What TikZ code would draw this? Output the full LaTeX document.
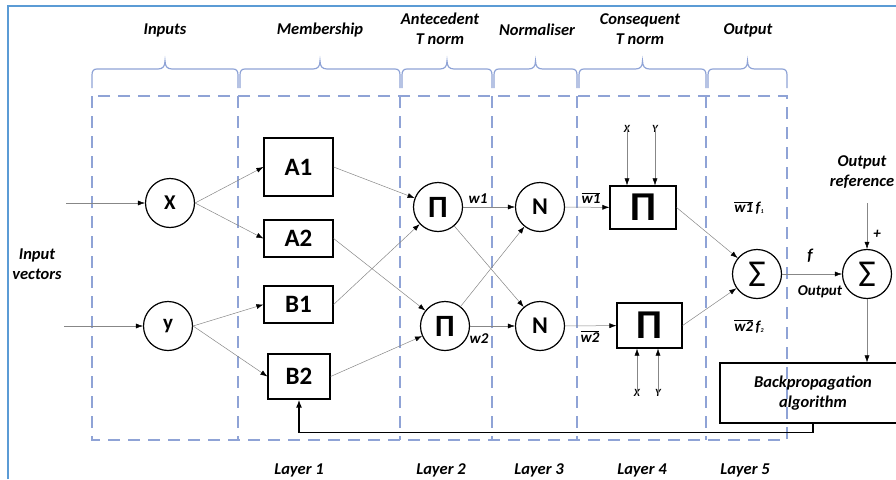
\documentclass[tikz,border=0pt]{standalone}
\usepackage{fontspec}
\setmainfont{Carlito}
\usetikzlibrary{arrows.meta}
\definecolor{frameblue}{RGB}{91,155,213}
\definecolor{dashblue}{RGB}{143,163,214}
\definecolor{conn}{RGB}{135,135,135}
\begin{document}
\begin{tikzpicture}[x=1pt,y=-1pt,
  lbl/.style={font=\fontsize{16.5}{20}\selectfont\bfseries\itshape, inner sep=0pt, align=center},
  small/.style={font=\fontsize{15}{17}\selectfont\bfseries\itshape, inner sep=0pt},
  tiny/.style={font=\fontsize{11}{13}\selectfont\bfseries\itshape, inner sep=0pt},
  cnode/.style={circle, draw=black, line width=1.2pt, minimum size=49pt, inner sep=0pt, font=\fontsize{24}{26}\selectfont\bfseries},
  bnode/.style={rectangle, draw=black, line width=1.2pt, inner sep=0pt, font=\fontsize{25}{27}\selectfont\bfseries},
  column/.style={draw=dashblue, line width=1.2pt, dash pattern=on 12pt off 8pt},
  bracestyle/.style={draw=dashblue, line width=1.2pt},
  conn/.style={draw=conn, line width=0.5pt, -{Latex[length=7pt,width=5pt,color=black]}},
  feedback/.style={draw=black, line width=1.5pt, -{Latex[length=8pt,width=6pt]}}
]
\useasboundingbox (0,0) rectangle (896,479);
% frame
\draw[frameblue, line width=1.8pt] (8,479) -- (8,6) -- (900,6);
% columns
\draw[column] (92,96) rectangle (787,440);
\foreach \a in {238, 400, 492, 577, 706}
  \draw[column] (\a,96) -- (\a,440);
% braces
\foreach \a/\b in {92/238, 240/400, 402/492, 494/577, 579/706, 708/787} {
  \pgfmathsetmacro\m{(\a+\b)/2}
  \draw[bracestyle] (\a,88) -- (\a,75)
     .. controls (\a,71) and ({\a+1.5},69) .. ({\a+5},69)
     -- ({\m-7},69)
     .. controls ({\m-2},69) and (\m,66) .. (\m,61)
     .. controls (\m,66) and ({\m+2},69) .. ({\m+7},69)
     -- ({\b-5},69)
     .. controls ({\b-1.5},69) and (\b,71) .. (\b,75)
     -- (\b,88);
}
% headers
\node[lbl] (hin) at (165,30) {Inputs};
\node[lbl] (hmem) at (320,30) {Membership};
\node[lbl] (hant) at (440,29) {Antecedent\\T norm};
\node[lbl] (hnorm) at (537,30) {Normaliser};
\node[lbl] (hcons) at (640,29) {Consequent\\T norm};
\node[lbl] (hout) at (748,30) {Output};
% layer labels
\node[lbl] (l1) at (299,470) {Layer 1};
\node[lbl] (l2) at (441,470) {Layer 2};
\node[lbl] (l3) at (539,470) {Layer 3};
\node[lbl] (l4) at (642,470) {Layer 4};
\node[lbl] (l5) at (745,470) {Layer 5};
% input vectors
\node[lbl] (iv) at (37,264) {Input\\vectors};
\coordinate (inx) at (66,203);
\coordinate (iny) at (64,326);
% nodes
\node[cnode, font=\fontsize{21}{23}\selectfont\bfseries] (X) at (170,203) {X};
\node[cnode, font=\fontsize{21}{23}\selectfont\bfseries] (Y) at (168,326) {y};
\node[bnode, minimum width=69pt, minimum height=58pt] (A1) at (298.5,167) {A1};
\node[bnode, minimum width=69pt, minimum height=37pt] (A2) at (298.5,238.5) {A2};
\node[bnode, minimum width=69pt, minimum height=37pt] (B1) at (298.5,304.5) {B1};
\node[bnode, minimum width=62pt, minimum height=45pt] (B2) at (299,376.5) {B2};
\node[cnode, font=\fontsize{31}{33}\selectfont\bfseries] (P1) at (438,207) {Π};
\node[cnode, font=\fontsize{31}{33}\selectfont\bfseries] (P2) at (445,326) {Π};
\node[cnode] (N1) at (540,207) {N};
\node[cnode] (N2) at (540,326) {N};
\node[bnode, minimum width=66pt, minimum height=43pt, font=\fontsize{41}{43}\selectfont\bfseries] (PB1) at (643,207.5) {Π};
\node[bnode, minimum width=65pt, minimum height=45pt, font=\fontsize{41}{43}\selectfont\bfseries] (PB2) at (649.5,325.5) {Π};
\node[cnode, font=\fontsize{38}{40}\selectfont] (S1) at (757,274) {Σ};
\node[cnode, font=\fontsize{38}{40}\selectfont] (S2) at (867,274) {Σ};
\node[rectangle, draw=black, line width=1.2pt, minimum width=186pt, minimum height=60pt, lbl] (BP) at (813,393) {Backpropagation\\algorithm};
% labels
\node[small] (w1) at (478,199) {w1};
\node[small] (w2) at (479,339) {w2};
\node[small] (w1b) at (591,198) {$\overline{\hbox{w1}}$};
\node[small] (w2b) at (590,337) {$\overline{\hbox{w2}}$};
\node[small] (w1f) at (749,208) {$\overline{\hbox{w1}}$\,f{\fontsize{6}{7}\selectfont\raisebox{-1pt}{1}}};
\node[small] (w2f) at (749,326) {$\overline{\hbox{w2}}$\,f{\fontsize{6}{7}\selectfont\raisebox{-1pt}{2}}};
\node[lbl] (fl) at (810,256) {f};
\node[small] (outl) at (820,292) {Output};
\node[lbl] (oref) at (862,172) {Output\\reference};
\coordinate (orefa) at (867,203);
\node[small] (plus) at (877,234) {+};
\node[tiny] (xa) at (627,129) {X};
\node[tiny] (ya) at (655,129) {Y};
\node[tiny] (xb) at (637,393) {X};
\node[tiny] (yb) at (658,393) {Y};
% connectors
\draw[conn] (inx) -- (X);
\draw[conn] (iny) -- (Y);
\draw[conn] (X.east) -- (A1.west);
\draw[conn] (X.east) -- (A2.west);
\draw[conn] (Y.east) -- (B1.west);
\draw[conn] (Y.east) -- (B2.west);
\draw[conn] (A1.east) -- (P1);
\draw[conn] (B1.east) -- (P1);
\draw[conn] (A2.east) -- (P2);
\draw[conn] (B2.east) -- (P2);
\draw[conn] (P1) -- (N1);
\draw[conn] (P1) -- (N2);
\draw[conn] (P2) -- (N1);
\draw[conn] (P2) -- (N2);
\draw[conn] (N1) -- (PB1);
\draw[conn] (N2) -- (PB2);
\draw[conn] ([yshift=6pt]xa.south) -- (xa.south |- PB1.north);
\draw[conn] ([yshift=6pt]ya.south) -- (ya.south |- PB1.north);
\draw[conn] ([yshift=-6pt]xb.north) -- (xb.north |- PB2.south);
\draw[conn] ([yshift=-6pt]yb.north) -- (yb.north |- PB2.south);
\draw[conn] (PB1.east) -- (S1);
\draw[conn] (PB2.east) -- (S1);
\draw[conn] (S1) -- (S2);
\draw[conn] (orefa) -- (S2);
\draw[conn] (S2) -- (S2 |- BP.north);
\draw[feedback] (BP.south) -- ++(0,9) -| (B2.south);
\end{tikzpicture}
\end{document}
